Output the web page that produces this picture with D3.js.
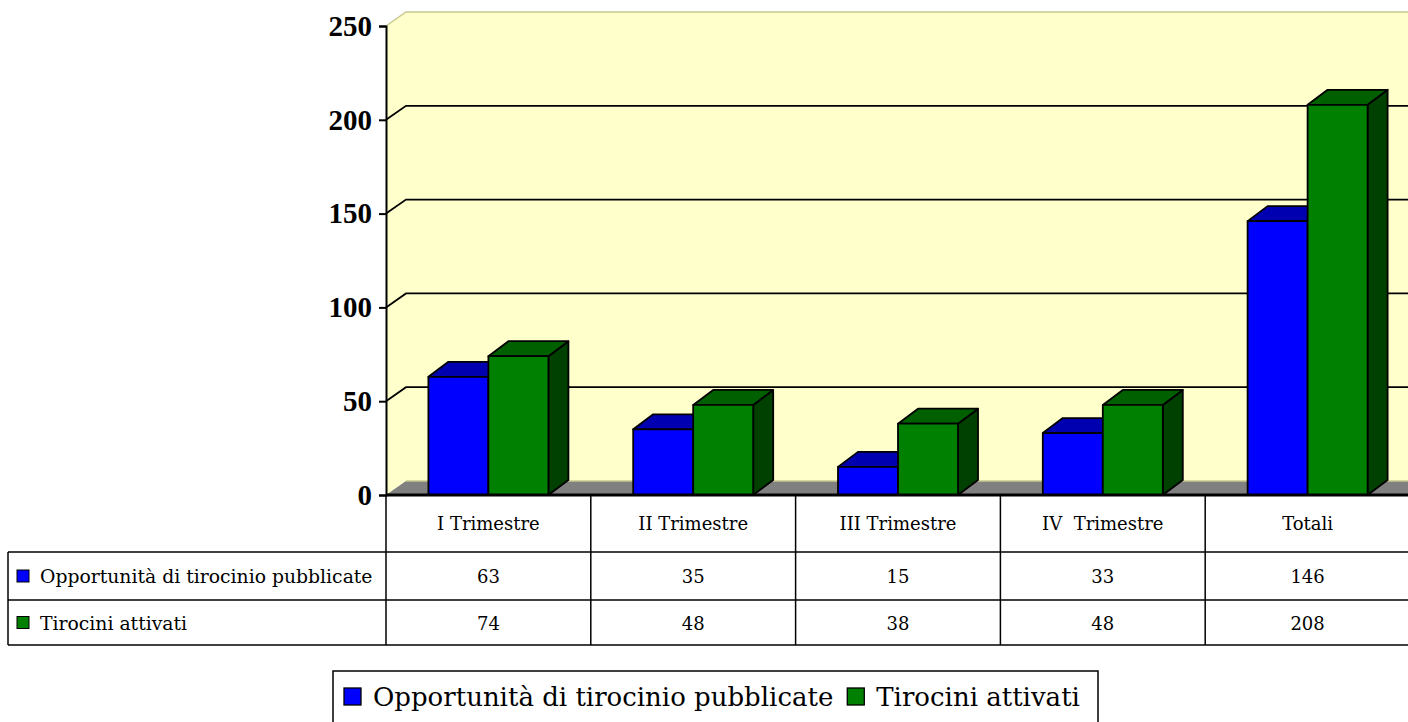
<!DOCTYPE html>
<html><head><meta charset="utf-8">
<script src="https://cdn.jsdelivr.net/npm/d3@7"></script>
<style>
html,body{margin:0;padding:0;background:#fff;}
svg{display:block;}
text{font-family:"DejaVu Serif",serif;}
</style></head><body>
<svg id="chart" width="1408" height="722"></svg>
<script>
const categories = ["I Trimestre", "II Trimestre", "III Trimestre", "IV  Trimestre", "Totali"];
const seriesNames = ["Opportunità di tirocinio pubblicate", "Tirocini attivati"];
const pubblicate = [63, 35, 15, 33, 146];
const attivati = [74, 48, 38, 48, 208];
const yTicks = [0, 50, 100, 150, 200, 250];

const series = [
  {name: seriesNames[0], values: pubblicate, front: "#0000FF", topc: "#0000B0", side: "#00008A"},
  {name: seriesNames[1], values: attivati, front: "#008000", topc: "#006000", side: "#004000"}
];

const svg = d3.select("#chart");
const pLeft = 386, pRight = 1410, pTop = 26, pBottom = 495;
const wdx = 20, wdy = 14;   // wall depth
const bdx = 20, bdy = 15;   // bar depth
const barW = 60;

const x = d3.scaleBand().domain(categories).range([pLeft, pRight]);
const y = d3.scaleLinear().domain([0, 250]).range([pBottom, pTop]);

const poly = pts => pts.map(p => p.join(",")).join(" ");

// walls
const yTop = y(250);
svg.append("polygon").attr("points", poly([[pLeft, yTop],[pLeft+wdx, yTop-wdy],[pLeft+wdx, pBottom-wdy],[pLeft, pBottom]]))
  .attr("fill", "#FFFFCC").attr("stroke", "none");
svg.append("rect").attr("x", pLeft+wdx).attr("y", yTop-wdy).attr("width", pRight-pLeft).attr("height", pBottom-yTop)
  .attr("fill", "#FFFFCC");
svg.append("polyline").attr("points", poly([[pLeft, yTop],[pLeft+wdx, yTop-wdy],[pRight+wdx, yTop-wdy]]))
  .attr("fill", "none").attr("stroke", "#C8C890").attr("stroke-width", 1.5);
// floor
svg.append("polygon").attr("points", poly([[pLeft, pBottom],[pLeft+wdx, pBottom-wdy],[pRight+wdx, pBottom-wdy],[pRight, pBottom]]))
  .attr("fill", "#808080").attr("stroke", "none");
svg.append("line").attr("x1", pLeft+wdx).attr("x2", pRight+wdx).attr("y1", pBottom-wdy).attr("y2", pBottom-wdy)
  .attr("stroke", "#C8C890").attr("stroke-width", 1.5);

// gridlines
yTicks.filter(t => t > 0 && t < 250).forEach(t => {
  svg.append("polyline").attr("points", poly([[pLeft, y(t)],[pLeft+wdx, y(t)-wdy],[pRight+wdx, y(t)-wdy]]))
    .attr("fill", "none").attr("stroke", "#000").attr("stroke-width", 1.8);
});

// bars
categories.forEach((c, i) => {
  const cx = x(c) + x.bandwidth()/2;
  series.forEach((s, j) => {
    const x0 = cx - barW + j*barW, x1 = x0 + barW;
    const yv = y(s.values[i]), y0 = y(0);
    const g = svg.append("g").attr("stroke", "#000").attr("stroke-width", 1.8).attr("stroke-linejoin", "round");
    g.append("polygon").attr("points", poly([[x1, yv],[x1+bdx, yv-bdy],[x1+bdx, y0-bdy],[x1, y0]])).attr("fill", s.side);
    g.append("polygon").attr("points", poly([[x0, yv],[x0+bdx, yv-bdy],[x1+bdx, yv-bdy],[x1, yv]])).attr("fill", s.topc);
    g.append("rect").attr("x", x0).attr("y", yv).attr("width", barW).attr("height", y0-yv).attr("fill", s.front);
  });
});

// y axis
const axis = svg.append("g").attr("transform", `translate(${pLeft},0)`)
  .call(d3.axisLeft(y).tickValues(yTicks).tickSize(7).tickPadding(7));
axis.select(".domain").attr("stroke", "#000").attr("stroke-width", 2);
axis.selectAll(".tick line").attr("stroke", "#000").attr("stroke-width", 2);
axis.selectAll(".tick text").attr("fill", "#000").style("font-size", "29px").style("font-weight", "bold")
  .style("font-family", "\"Liberation Serif\",serif");

// bottom axis line
svg.append("line").attr("x1", pLeft).attr("x2", pRight).attr("y1", pBottom).attr("y2", pBottom)
  .attr("stroke", "#000").attr("stroke-width", 3);

// data table
const tLeft = 8, r1 = 552, r2 = 600, r3 = 645;
const tg = svg.append("g").attr("stroke", "#000").attr("stroke-width", 1.5);
[pLeft, ...categories.map(c => x(c) + x.bandwidth())].forEach(xx => {
  tg.append("line").attr("x1", xx).attr("x2", xx).attr("y1", pBottom).attr("y2", r3);
});
tg.append("line").attr("x1", tLeft).attr("x2", tLeft).attr("y1", r1).attr("y2", r3);
[r1, r2, r3].forEach(yy => tg.append("line").attr("x1", tLeft).attr("x2", pRight).attr("y1", yy).attr("y2", yy));

categories.forEach((c, i) => {
  const cx = x(c) + x.bandwidth()/2;
  svg.append("text").attr("x", cx).attr("y", (pBottom + r1)/2 + 6).attr("text-anchor", "middle")
    .style("font-size", "18px").style("white-space", "pre").text(c);
  svg.append("text").attr("x", cx).attr("y", (r1 + r2)/2 + 7).attr("text-anchor", "middle")
    .style("font-size", "18px").text(pubblicate[i]);
  svg.append("text").attr("x", cx).attr("y", (r2 + r3)/2 + 7).attr("text-anchor", "middle")
    .style("font-size", "18px").text(attivati[i]);
});
[[r1, r2], [r2, r3]].forEach(([a, b], j) => {
  const mid = (a + b)/2;
  svg.append("rect").attr("x", 17).attr("y", mid - 6).attr("width", 12).attr("height", 12)
    .attr("fill", series[j].front).attr("stroke", "#000").attr("stroke-width", 1);
  svg.append("text").attr("x", 40).attr("y", mid + 7).style("font-size", "18.8px")
    .text(series[j].name);
});

// legend
const lg = svg.append("g");
lg.append("rect").attr("x", 333).attr("y", 671).attr("width", 765).attr("height", 70)
  .attr("fill", "#fff").attr("stroke", "#000").attr("stroke-width", 1.5);
let lx = 344;
series.forEach((s, j) => {
  lg.append("rect").attr("x", lx).attr("y", 688).attr("width", 17).attr("height", 17)
    .attr("fill", s.front).attr("stroke", "#000").attr("stroke-width", 1.3);
  const t = lg.append("text").attr("x", lx + 29).attr("y", 706).style("font-size", "26px").text(s.name);
  lx = lx + 29 + t.node().getComputedTextLength() + 14;
});
</script>
</body></html>
